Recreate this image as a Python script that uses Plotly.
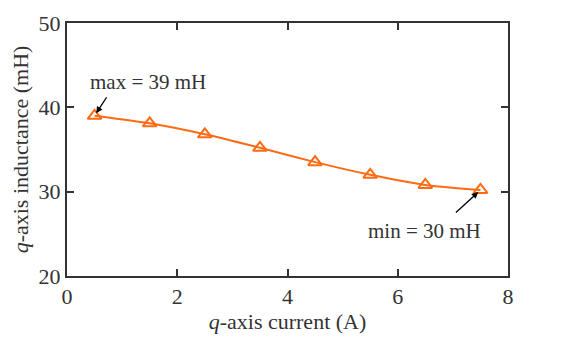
import plotly.graph_objects as go

current = [0.5, 1.5, 2.5, 3.5, 4.5, 5.5, 6.5, 7.5]
inductance = [39.0, 38.1, 36.8, 35.2, 33.5, 32.0, 30.8, 30.2]
x_ticks = [0, 2, 4, 6, 8]
y_ticks = [20, 30, 40, 50]

orange = "#FF6A13"
frame = "#333333"
tick_font = dict(family="Liberation Serif", size=22, color="#333333")
title_font = dict(family="Liberation Serif", size=22, color="#333333")
ann_font = dict(family="Liberation Serif", size=21, color="#333333")

fig = go.Figure()
fig.add_trace(go.Scatter(
    x=current, y=inductance, mode="lines+markers",
    line=dict(color=orange, width=2, shape="spline", smoothing=0.6),
    marker=dict(symbol="triangle-up-open", size=12, color=orange, line=dict(width=2, color=orange)),
    showlegend=False,
))

axis_common = dict(
    showgrid=False, zeroline=False, showline=True, linecolor=frame, linewidth=2,
    mirror="allticks", ticks="inside", ticklen=7, tickwidth=1.5, tickcolor=frame,
    tickfont=tick_font,
)
fig.update_xaxes(range=[0, 8], tickvals=x_ticks,
                 title=dict(text="<i>q</i>-axis current (A)", font=title_font, standoff=2),
                 **axis_common)
fig.update_yaxes(range=[20, 50], tickvals=y_ticks,
                 title=dict(text="<i>q</i>-axis inductance (mH)", font=title_font, standoff=4),
                 **axis_common)

# arrows
fig.add_annotation(x=current[0], y=inductance[0], ax=13, ay=-20, text="",
                   showarrow=True, arrowhead=2, arrowsize=1, arrowwidth=1.3,
                   arrowcolor="black", standoff=3)
fig.add_annotation(x=current[-1], y=inductance[-1], ax=-26, ay=24, text="",
                   showarrow=True, arrowhead=2, arrowsize=1, arrowwidth=1.3,
                   arrowcolor="black", standoff=3)
# labels
fig.add_annotation(x=1.47, y=43.0, text="max = 39 mH", showarrow=False, font=ann_font)
fig.add_annotation(x=6.48, y=25.3, text="min = 30 mH", showarrow=False, font=ann_font)

fig.update_layout(
    width=581, height=340,
    margin=dict(l=67, r=73, t=11, b=64),
    plot_bgcolor="white", paper_bgcolor="white",
)
fig.write_html("out.html")
